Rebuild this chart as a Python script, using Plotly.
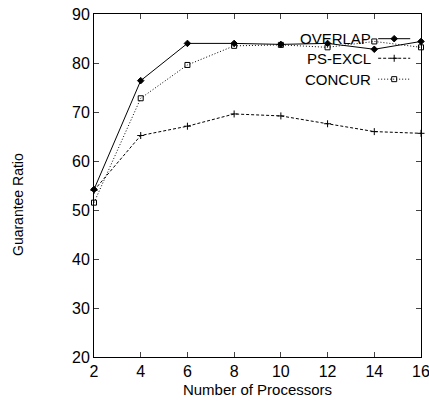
import plotly.graph_objects as go

procs = [2, 4, 6, 8, 10, 12, 14, 16]
overlap = [54.2, 76.4, 84.0, 84.0, 83.8, 84.0, 82.8, 84.4]
ps_excl = [54.0, 65.2, 67.1, 69.6, 69.2, 67.6, 66.0, 65.65]
concur = [51.5, 72.8, 79.6, 83.5, 83.7, 83.2, 84.4, 83.2]

series = [
    ("OVERLAP", overlap, "solid", "diamond", "black", 5),
    ("PS-EXCL", ps_excl, "3px,2px", "cross-thin", "black", 5),
    ("CONCUR", concur, "1px,2px", "square-open", "black", 5),
]

FONT = "Liberation Sans, Arial"

fig = go.Figure()
for name, ys, dash, sym, col, ms in series:
    fig.add_trace(go.Scatter(
        x=procs, y=ys, mode="lines+markers", name=name,
        line=dict(color=col, width=1, dash=dash),
        marker=dict(symbol=sym, size=ms, color=col,
                    line=dict(color=col, width=1)),
        showlegend=False, cliponaxis=False,
    ))

# gnuplot-style key: text, then sample
leg_y = [0.928, 0.871, 0.810]
for (name, ys, dash, sym, col, ms), ly in zip(series, leg_y):
    fig.add_trace(go.Scatter(
        x=[0.869, 0.967], y=[ly, ly], mode="lines",
        line=dict(color=col, width=1, dash=dash),
        xaxis="x2", yaxis="y2", showlegend=False, hoverinfo="skip"))
    fig.add_trace(go.Scatter(
        x=[0.918], y=[ly], mode="markers",
        marker=dict(symbol=sym, size=ms, color=col, line=dict(color=col, width=1)),
        xaxis="x2", yaxis="y2", showlegend=False, hoverinfo="skip"))
    fig.add_annotation(x=0.852, y=ly, xref="x2", yref="y2", text=name,
                       showarrow=False, xanchor="right", yanchor="middle",
                       font=dict(family=FONT, size=15, color="black"))

pw = 429 - 94 - 8
ph = 412 - 14 - 55
fig.add_annotation(x=(18 - 94) / pw, y=(357 - 205) / ph, xref="paper", yref="paper",
                   text="Guarantee Ratio", showarrow=False, textangle=-90,
                   xanchor="center", yanchor="middle",
                   font=dict(family=FONT, size=14, color="black"))

fig.update_layout(
    width=429, height=412,
    margin=dict(l=94, r=8, t=14, b=55, autoexpand=False),
    paper_bgcolor="white", plot_bgcolor="white",
    xaxis=dict(range=[2, 16], tickvals=procs, ticks="inside", ticklen=5,
               showgrid=False, zeroline=False, showline=True, linecolor="black",
               linewidth=1, mirror="ticks", ticklabeloverflow="allow",
               automargin=False,
               tickfont=dict(family=FONT, size=16, color="black"),
               title=dict(text="Number of Processors", standoff=5,
                          font=dict(family=FONT, size=15, color="black"))),
    yaxis=dict(range=[20, 90], tickvals=[20, 30, 40, 50, 60, 70, 80, 90],
               ticks="inside", ticklen=5, showgrid=False, zeroline=False,
               showline=True, linecolor="black", linewidth=1, mirror="ticks",
               ticklabeloverflow="allow", automargin=False,
               tickfont=dict(family=FONT, size=16, color="black")),
    xaxis2=dict(range=[0, 1], overlaying="x", visible=False, fixedrange=True),
    yaxis2=dict(range=[0, 1], overlaying="y", visible=False, fixedrange=True),
    showlegend=False,
)
fig.write_html("out.html")
